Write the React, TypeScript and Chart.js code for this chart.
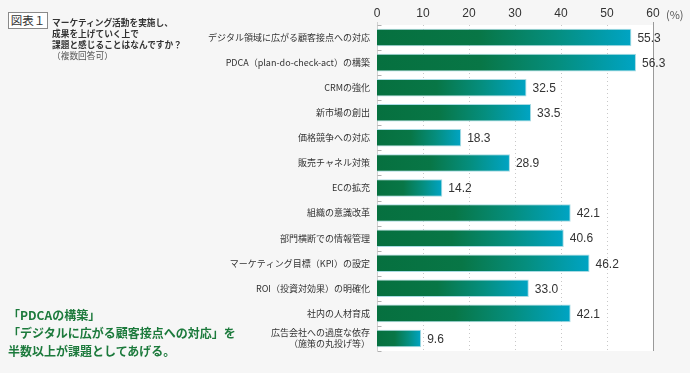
import React, { useEffect, useRef } from "react";
import { Chart, registerables } from "chart.js";

Chart.register(...registerables);

const categories: (string | string[])[] = [
  "デジタル領域に広がる顧客接点への対応",
  "PDCA（plan-do-check-act）の構築",
  "CRMの強化",
  "新市場の創出",
  "価格競争への対応",
  "販売チャネル対策",
  "ECの拡充",
  "組織の意識改革",
  "部門横断での情報管理",
  "マーケティング目標（KPI）の設定",
  "ROI（投資対効果）の明確化",
  "社内の人材育成",
  ["広告会社への過度な依存", "（施策の丸投げ等）"],
];
const values: number[] = [55.3, 56.3, 32.5, 33.5, 18.3, 28.9, 14.2, 42.1, 40.6, 46.2, 33.0, 42.1, 9.6];
const xTicks: number[] = [0, 10, 20, 30, 40, 50, 60];

const FONT = "'Noto Sans CJK JP', 'Noto Sans', sans-serif";
const NUMFONT = "'Liberation Sans', Arial, sans-serif";

const decorPlugin = {
  id: "decor",
  beforeDatasetsDraw(chart: any) {
    const { ctx, chartArea, scales } = chart;
    const xs = scales.x;
    const ys = scales.y;
    ctx.save();
    ctx.fillStyle = "#ffffff";
    ctx.fillRect(chartArea.left, chartArea.top, chartArea.right - chartArea.left, chartArea.bottom - chartArea.top);
    ctx.strokeStyle = "#c8c8c8";
    ctx.lineWidth = 1;
    ctx.setLineDash([1, 3]);
    xTicks.forEach((v) => {
      if (v === 0 || v === 60) return;
      const x = Math.round(xs.getPixelForValue(v)) + 0.5;
      ctx.beginPath();
      ctx.moveTo(x, chartArea.top);
      ctx.lineTo(x, chartArea.bottom);
      ctx.stroke();
    });
    ctx.setLineDash([]);
    const xr = Math.round(xs.getPixelForValue(60)) + 0.5;
    ctx.strokeStyle = "#9a9a9a";
    ctx.beginPath();
    ctx.moveTo(xr, chartArea.top - 3);
    ctx.lineTo(xr, chartArea.bottom);
    ctx.stroke();
    const xl = Math.round(xs.getPixelForValue(0)) + 0.5;
    ctx.strokeStyle = "#d0d0d0";
    ctx.beginPath();
    ctx.moveTo(xl, chartArea.top - 3);
    ctx.lineTo(xl, chartArea.bottom);
    ctx.stroke();
    ctx.strokeStyle = "#b0b0b0";
    const n = categories.length;
    const step = (ys.getPixelForValue(n - 1) - ys.getPixelForValue(0)) / (n - 1);
    for (let i = 0; i <= n; i++) {
      const y = Math.round(ys.getPixelForValue(0) - step / 2 + i * step) + 0.5;
      ctx.beginPath();
      ctx.moveTo(xl, y);
      ctx.lineTo(xl + 4, y);
      ctx.stroke();
    }
    ctx.restore();
  },
  afterDatasetsDraw(chart: any) {
    const { ctx, scales } = chart;
    const xs = scales.x;
    const ys = scales.y;
    ctx.save();
    ctx.fillStyle = "#333333";
    ctx.font = `12px ${NUMFONT}`;
    ctx.textBaseline = "middle";
    ctx.textAlign = "left";
    values.forEach((v, i) => {
      const x = xs.getPixelForValue(v) + 6;
      const y = ys.getPixelForValue(i) + 1;
      ctx.fillText(v.toFixed(1), x, y);
    });
    ctx.font = `11px ${FONT}`;
    ctx.fillStyle = "#555555";
    ctx.fillText("(%)", 666, 15);
    ctx.restore();
  },
};

export default function App() {
  const ref = useRef<HTMLCanvasElement | null>(null);
  useEffect(() => {
    if (!ref.current) return;
    const chart = new Chart(ref.current, {
      type: "bar",
      data: {
        labels: categories,
        datasets: [
          {
            data: values,
            backgroundColor: (c: any) => {
              const chart = c.chart;
              const area = chart.chartArea;
              if (!area || !chart.scales.x) return "#0a7a45";
              const v = values[c.dataIndex] ?? 0;
              const x0 = chart.scales.x.getPixelForValue(0);
              const x1 = chart.scales.x.getPixelForValue(v);
              const g = chart.ctx.createLinearGradient(x0, 0, Math.max(x1, x0 + 1), 0);
              g.addColorStop(0, "#06703f");
              g.addColorStop(0.4, "#087646");
              g.addColorStop(0.7, "#058e7e");
              g.addColorStop(1, "#00a4c4");
              return g;
            },
            borderColor: "rgba(160,215,225,0.9)",
            borderWidth: 1,
            borderSkipped: "left",
            barPercentage: 0.7,
            categoryPercentage: 1,
          },
        ],
      },
      options: {
        indexAxis: "y",
        animation: false,
        responsive: false,
        maintainAspectRatio: false,
        layout: { padding: { left: 0, right: 37, top: 0, bottom: 22 } },
        plugins: { legend: { display: false }, tooltip: { enabled: false } },
        scales: {
          x: {
            position: "top",
            min: 0,
            max: 60,
            afterFit: (s: any) => {
              s.height = 25;
            },
            afterBuildTicks: (s: any) => {
              s.ticks = xTicks.map((v) => ({ value: v }));
            },
            grid: { display: false, drawTicks: false },
            border: { display: false },
            ticks: {
              padding: 4,
              color: "#333333",
              font: { family: NUMFONT, size: 12 },
            },
          },
          y: {
            afterFit: (s: any) => {
              s.width = 377;
            },
            grid: { display: false, drawTicks: false },
            border: { display: false },
            ticks: {
              autoSkip: false,
              padding: 7,
              color: "#333333",
              font: { family: FONT, size: 9 },
            },
          },
        },
      },
      plugins: [decorPlugin],
    } as any);
    return () => chart.destroy();
  }, []);

  return (
    <div
      style={{
        position: "fixed",
        left: 0,
        top: 0,
        width: 690,
        height: 373,
        background: "#f6f6f6",
        fontFamily: FONT,
      }}
    >
      <canvas ref={ref} width={690} height={373} style={{ position: "absolute", left: 0, top: 0 }} />
      <div
        style={{
          position: "absolute",
          left: 8,
          top: 12,
          width: 38,
          height: 15,
          border: "1px solid #8a8a8a",
          background: "#ffffff",
          fontSize: 11.5,
          lineHeight: "15px",
          textAlign: "center",
          color: "#333",
        }}
      >
        図表１
      </div>
      <div
        style={{
          position: "absolute",
          left: 52,
          top: 17,
          fontSize: 8.7,
          lineHeight: "11px",
          fontWeight: 700,
          color: "#333",
          whiteSpace: "nowrap",
        }}
      >
        <div>マーケティング活動を実施し、</div>
        <div>成果を上げていく上で</div>
        <div>課題と感じることはなんですか？</div>
        <div style={{ fontWeight: 400, color: "#555" }}>（複数回答可）</div>
      </div>
      <div
        style={{
          position: "absolute",
          left: 8,
          top: 306,
          fontSize: 12,
          lineHeight: "18px",
          fontWeight: 700,
          color: "#1c7a3c",
          whiteSpace: "nowrap",
        }}
      >
        <div>「PDCAの構築」</div>
        <div>「デジタルに広がる顧客接点への対応」を</div>
        <div>半数以上が課題としてあげる。</div>
      </div>
    </div>
  );
}
